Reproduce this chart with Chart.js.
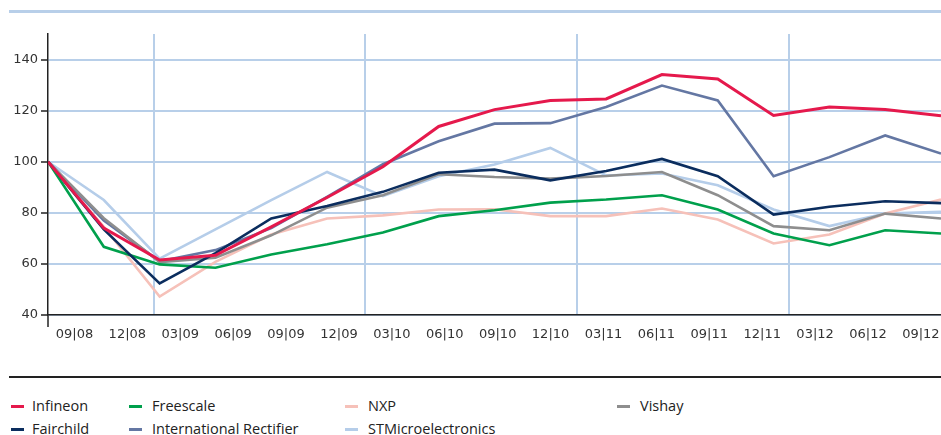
<!DOCTYPE html>
<html>
<head>
<meta charset="utf-8">
<script src="https://cdn.jsdelivr.net/npm/chart.js@4/dist/chart.umd.min.js"></script>
<style>
  body { margin: 0; background: #fff; font-family: "Open Sans", sans-serif; }
  #wrap { position: relative; width: 941px; height: 435px; overflow: hidden; }
  #topline { position: absolute; left: 9px; top: 10px; width: 932px; height: 3px; background: #b8cfe9; }
  #rule { position: absolute; left: 9px; top: 376px; width: 932px; height: 2px; background: #222; }
  #chart { position: absolute; left: 0; top: 0; }
  .item { position: absolute; font-size: 14.5px; color: #222; line-height: 20px; white-space: nowrap; }
  .mark { position: absolute; width: 13px; height: 3px; }
</style>
</head>
<body>
<div id="wrap">
  <div id="topline"></div>
  <canvas id="chart" width="941" height="345"></canvas>
  <div id="rule"></div>
  <div id="legend"></div>
</div>
<script>
// Quartale (Index 09|08 = 100)
const quarters = ["09|08", "12|08", "03|09", "06|09", "09|09", "12|09", "03|10", "06|10", "09|10",
  "12|10", "03|11", "06|11", "09|11", "12|11", "03|12", "06|12", "09|12"];
const yTicks = [40, 60, 80, 100, 120, 140];

const infineon = [100, 74, 61.5, 63.4, 74.5, 86, 98, 113.8, 120.4, 124, 124.6, 134.1, 132.4, 118.1, 121.4, 120.4, 118];
const fairchild = [100, 73.5, 52.4, 64.2, 77.8, 82.7, 88.2, 95.7, 96.9, 92.7, 96.4, 101.1, 94.3, 79.3, 82.4, 84.5, 83.8];
const freescale = [100, 66.7, 59.8, 58.5, 63.7, 67.7, 72.3, 78.7, 81, 84, 85.2, 86.9, 81.3, 71.9, 67.3, 73.2, 71.9];
const intlRectifier = [100, 77, 61, 65.4, 74, 86.2, 99, 108, 114.9, 115.1, 121.4, 129.8, 124, 94.3, 101.8, 110.3, 103.2];
const nxp = [100, 74.5, 47.2, 60.8, 71.5, 77.8, 79, 81.3, 81.4, 78.7, 78.7, 81.7, 77.4, 68, 71.5, 79.7, 85.2];
const stm = [100, 85, 62.1, 73.5, 85, 96, 86.5, 94.3, 98.9, 105.4, 94.6, 95.4, 90.8, 81.3, 74.8, 79.7, 80.4];
const vishay = [100, 77.9, 60.7, 62.4, 71.2, 82, 86.9, 95.1, 94, 93.4, 94.4, 96, 86.9, 74.8, 73.2, 79.7, 77.8];

const GRID = "#b8cfe9";
const DARK = "#222";

// draw order: first one ends up on top
const series = [
  { name: "Infineon", data: infineon, color: "#e5194c", width: 3 },
  { name: "Fairchild", data: fairchild, color: "#0b2d5e", width: 2.6 },
  { name: "Freescale", data: freescale, color: "#00a04c", width: 2.6 },
  { name: "Vishay", data: vishay, color: "#8e8e8e", width: 2.6 },
  { name: "International Rectifier", data: intlRectifier, color: "#6477a3", width: 2.6 },
  { name: "NXP", data: nxp, color: "#f6c1b9", width: 2.6 },
  { name: "STMicroelectronics", data: stm, color: "#b5cde9", width: 2.6 },
];

// legend (HTML, fixed columns like the original)
const legendSlots = {
  "Infineon": [11, 32, 0], "Freescale": [129, 152, 0], "NXP": [345, 368, 0], "Vishay": [617, 640, 0],
  "Fairchild": [11, 32, 1], "International Rectifier": [129, 152, 1], "STMicroelectronics": [345, 368, 1],
};
const legend = document.getElementById("legend");
series.forEach((s) => {
  const [mx, tx, row] = legendSlots[s.name];
  const cy = row === 0 ? 406 : 429;
  const m = document.createElement("div");
  m.className = "mark";
  m.style.left = mx + "px";
  m.style.top = (cy - 1.5) + "px";
  m.style.background = s.color;
  legend.appendChild(m);
  const t = document.createElement("div");
  t.className = "item";
  t.style.left = tx + "px";
  t.style.top = (cy - 10.5) + "px";
  t.textContent = s.name;
  legend.appendChild(t);
});

const yearBreaks = [1.5, 5.5, 9.5, 13.5];
const tickFont = { family: "DejaVu Sans", size: 13 };

new Chart(document.getElementById("chart"), {
  type: "line",
  data: {
    datasets: series.map((s) => ({
      label: s.name,
      data: s.data.map((v, i) => ({ x: i, y: v })),
      borderColor: s.color,
      backgroundColor: s.color,
      borderWidth: s.width,
      pointRadius: 0,
      tension: 0,
      xAxisID: "x",
      yAxisID: "y",
    })),
  },
  options: {
    responsive: false,
    animation: false,
    layout: { padding: { top: 34, right: 0, bottom: 0, left: 0 } },
    plugins: { legend: { display: false }, tooltip: { enabled: false } },
    scales: {
      x: {
        type: "linear",
        display: false,
        min: 0,
        max: quarters.length - 1,
      },
      xl: {
        type: "linear",
        position: "bottom",
        min: -0.5,
        max: 16.38,
        afterBuildTicks: (scale) => {
          const vals = [-0.5, ...quarters.map((q, i) => i), ...yearBreaks].sort((a, b) => a - b);
          scale.ticks = vals.map((v) => ({ value: v }));
        },
        afterFit: (scale) => { scale.height = 30; },
        ticks: {
          autoSkip: false,
          maxRotation: 0,
          padding: 0,
          color: "#333",
          font: tickFont,
          callback: (v) => (Number.isInteger(v) ? quarters[v] : ""),
        },
        grid: {
          lineWidth: 2,
          tickLength: 12,
          color: (ctx) => (yearBreaks.includes(ctx.tick && ctx.tick.value) ? GRID : "rgba(0,0,0,0)"),
          tickColor: (ctx) => (ctx.tick && ctx.tick.value === -0.5 ? DARK : "rgba(0,0,0,0)"),
          tickWidth: 1.5,
        },
        border: { display: true, color: DARK, width: 1.5 },
      },
      y: {
        min: 40,
        max: 150,
        afterBuildTicks: (scale) => { scale.ticks = yTicks.map((v) => ({ value: v })); },
        afterFit: (scale) => { scale.width = 48; },
        ticks: {
          padding: 3,
          color: "#333",
          font: tickFont,
        },
        grid: {
          color: GRID,
          lineWidth: 2,
          tickLength: 7,
          tickColor: DARK,
          tickWidth: 1.5,
        },
        border: { display: true, color: DARK, width: 1.5 },
      },
    },
  },
});
</script>
</body>
</html>
